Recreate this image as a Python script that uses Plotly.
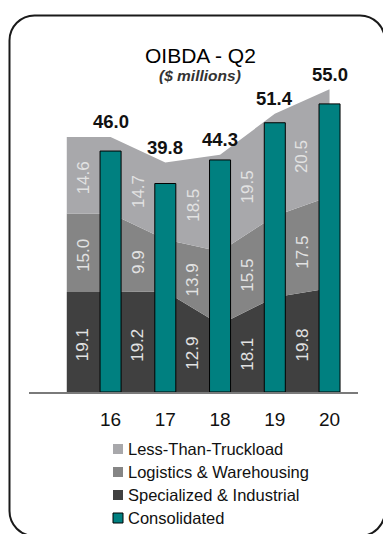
import numpy as np
import plotly.graph_objects as go

# ---- data ($ millions, Q2 of each year) ----
years = ["16", "17", "18", "19", "20"]
less_than_truckload = [14.6, 14.7, 18.5, 19.5, 20.5]
logistics_warehousing = [15.0, 9.9, 13.9, 15.5, 17.5]
specialized_industrial = [19.1, 19.2, 12.9, 18.1, 19.8]
consolidated = [46.0, 39.8, 44.3, 51.4, 55.0]

# stacked segments, bottom to top
segments = [
    ("Specialized & Industrial", specialized_industrial, "#404040"),
    ("Logistics & Warehousing", logistics_warehousing, "#858585"),
    ("Less-Than-Truckload", less_than_truckload, "#a8a8ab"),
]
TEAL = "#008080"

# ---- geometry (pixels) ----
W, H = 383, 534
PLOT_L, PLOT_R, PLOT_T, PLOT_B = 29, 358, 40, 392
X_RANGE = [14.51, 20.52]
Y_RANGE = [0, 67.2]
BAR_WIDTH = 0.384
AREA_LEAD = 0.8          # area starts this far left of the first year

SANS = "Liberation Sans, Arial, sans-serif"
NARROW = "Liberation Sans Narrow, Arial Narrow, Liberation Sans, Arial, sans-serif"


def px(x):
    return x / W


def py(y):
    return 1 - y / H


pos = np.array([int(y) for y in years], dtype=float)
area_x = np.concatenate([[pos[0] - AREA_LEAD], pos])

fig = go.Figure()

# stacked areas
for name, vals, color in segments:
    vals = np.asarray(vals, dtype=float)
    area_y = np.concatenate([[vals[0]], vals])
    fig.add_trace(go.Scatter(
        x=area_x, y=area_y, stackgroup="seg", mode="none",
        fillcolor=color, name=name, showlegend=False, hoverinfo="skip",
    ))

# consolidated bars on an overlaying axis pair so they sit above the areas
fig.add_trace(go.Bar(
    x=pos, y=consolidated, width=BAR_WIDTH, xaxis="x2", yaxis="y2",
    marker=dict(color=TEAL, line=dict(color="#000000", width=1)),
    name="Consolidated", showlegend=False, hoverinfo="skip",
))

annotations = []

# value labels inside each segment, between the bars
label_x = pos - 0.5
bottom = np.zeros(len(area_x))
for name, vals, color in segments:
    vals = np.asarray(vals, dtype=float)
    top = bottom + np.concatenate([[vals[0]], vals])
    mid = (np.interp(label_x, area_x, bottom) + np.interp(label_x, area_x, top)) / 2
    for xi, yi, v in zip(label_x, mid, vals):
        annotations.append(dict(
            x=float(xi), y=float(yi), xref="x", yref="y", yshift=-3, text=f"{v:.1f}",
            showarrow=False, textangle=-90, xanchor="center", yanchor="middle",
            font=dict(family=NARROW, size=17, color="#e2e2e2"),
        ))
    bottom = top

# consolidated totals above the stack
stack_total = np.sum([np.asarray(v, dtype=float) for _, v, _ in segments], axis=0)
for xi, tot, v in zip(pos, stack_total, consolidated):
    annotations.append(dict(
        x=float(xi), y=float(tot), xref="x", yref="y", yshift=15, text=f"{v:.1f}",
        showarrow=False, xanchor="center", yanchor="middle",
        font=dict(family=SANS, size=18.5, color="#111111", weight="bold"),
    ))

# title and subtitle
annotations.append(dict(
    x=px(200), y=py(55), xref="paper", yref="paper", text="OIBDA - Q2",
    showarrow=False, xanchor="center", yanchor="middle",
    font=dict(family=SANS, size=21, color="#000000"),
))
annotations.append(dict(
    x=px(200), y=py(75), xref="paper", yref="paper", text="<b><i>($ millions)</i></b>",
    showarrow=False, xanchor="center", yanchor="middle",
    font=dict(family=SANS, size=15.5, color="#333333"),
))

# legend
shapes = []
legend_items = [(n, c, None) for n, _, c in reversed(segments)] + [("Consolidated", TEAL, "#000000")]
for i, (name, color, edge) in enumerate(legend_items):
    cy = 449 + 23 * i
    shapes.append(dict(
        type="rect", xref="paper", yref="paper",
        x0=px(113), x1=px(123), y0=py(cy + 5), y1=py(cy - 5),
        fillcolor=color, line=dict(color=edge or color, width=1 if edge else 0),
    ))
    annotations.append(dict(
        x=px(126), y=py(cy), xref="paper", yref="paper", text=name,
        xanchor="left", yanchor="middle", showarrow=False,
        font=dict(family=SANS, size=16.5, color="#111111"),
    ))

# rounded frame
x0, y0, x1, y1, r = 9.5, 15.5, 385, 536, 25
k = 0.5523 * r


def pt(x, y):
    return f"{px(x):.5f},{py(y):.5f}"


path = (
    f"M {pt(x0 + r, y0)} L {pt(x1 - r, y0)} "
    f"C {pt(x1 - r + k, y0)} {pt(x1, y0 + r - k)} {pt(x1, y0 + r)} "
    f"L {pt(x1, y1 - r)} "
    f"C {pt(x1, y1 - r + k)} {pt(x1 - r + k, y1)} {pt(x1 - r, y1)} "
    f"L {pt(x0 + r, y1)} "
    f"C {pt(x0 + r - k, y1)} {pt(x0, y1 - r + k)} {pt(x0, y1 - r)} "
    f"L {pt(x0, y0 + r)} "
    f"C {pt(x0, y0 + r - k)} {pt(x0 + r - k, y0)} {pt(x0 + r, y0)} Z"
)
shapes.append(dict(type="path", xref="paper", yref="paper", path=path,
                   line=dict(color="#1a1a1a", width=2), layer="above"))

x_domain = [PLOT_L / W, PLOT_R / W]
y_domain = [1 - PLOT_B / H, 1 - PLOT_T / H]

fig.update_layout(
    width=W, height=H, autosize=False,
    margin=dict(l=0, r=0, t=0, b=0),
    paper_bgcolor="#ffffff", plot_bgcolor="rgba(0,0,0,0)",
    showlegend=False,
    xaxis=dict(
        domain=x_domain, range=X_RANGE, tickvals=pos, ticktext=years,
        showgrid=False, zeroline=False, showline=True, linecolor="#7a7a7a",
        linewidth=2, ticks="", ticklabelstandoff=9,
        tickfont=dict(family=SANS, size=19, color="#111111"),
    ),
    yaxis=dict(domain=y_domain, range=Y_RANGE, visible=False),
    xaxis2=dict(overlaying="x", range=X_RANGE, visible=False),
    yaxis2=dict(overlaying="y", range=Y_RANGE, visible=False),
    annotations=annotations,
    shapes=shapes,
)

fig.write_html("out.html")
